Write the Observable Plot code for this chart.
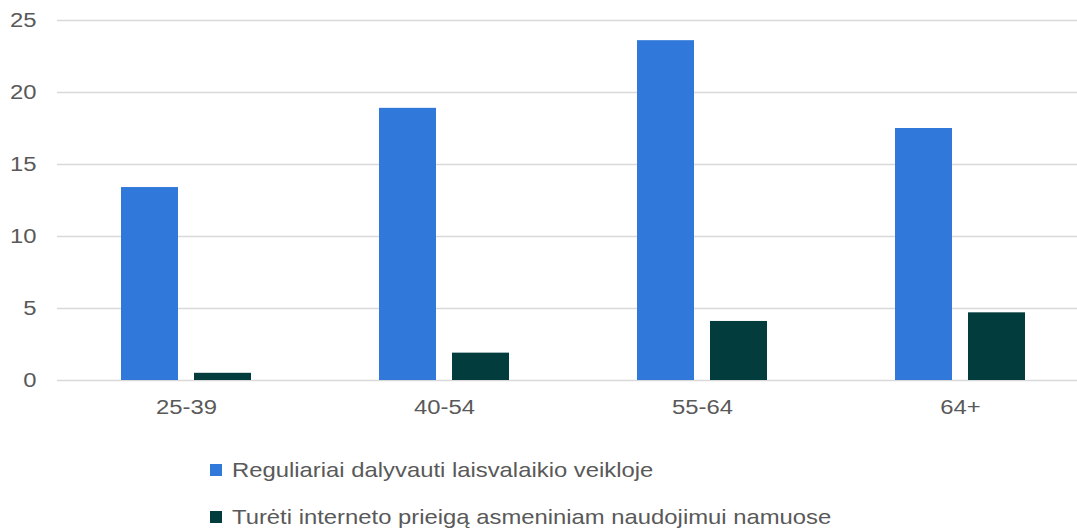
<!DOCTYPE html>
<html>
<head>
<meta charset="utf-8">
<script src="https://cdn.jsdelivr.net/npm/d3@7"></script>
<script src="https://cdn.jsdelivr.net/npm/@observablehq/plot@0.6"></script>
<style>
  html, body { margin: 0; padding: 0; background: #fff; }
  #wrap { position: relative; width: 1077px; height: 529px; overflow: hidden; font-family: "Liberation Sans", Arial, sans-serif; color: #595959; }
  #chart svg { display: block; }
  .legend-row { position: absolute; left: 210px; height: 24px; line-height: 24px; display: flex; align-items: center; font-size: 21px; white-space: nowrap; }
  .legend-row .sw { width: 12px; height: 12px; margin-right: 10px; flex: none; }
  .legend-row .txt { display: inline-block; transform: scaleX(1.135); transform-origin: left center; }
</style>
</head>
<body>
<div id="wrap">
  <div id="chart"></div>
  <div id="legend"></div>
</div>
<script>
// Age groups along the bottom
const categories = ["25-39", "40-54", "55-64", "64+"];
// Series names (legend)
const seriesNames = [
  "Reguliariai dalyvauti laisvalaikio veikloje",
  "Turėti interneto prieigą asmeniniam naudojimui namuose"
];
// Values per age group
const leisure = [13.4, 18.9, 23.6, 17.5];
const internet = [0.5, 1.9, 4.1, 4.7];
// Y axis ticks
const yTicks = [0, 5, 10, 15, 20, 25];
const colors = ["#3079db", "#023c3c"];

// The lettering is slightly wide; stretch text horizontally by this factor
const textStretch = 1.135;

const data = categories.flatMap((g, i) => [
  {group: g, series: seriesNames[0], value: leisure[i]},
  {group: g, series: seriesNames[1], value: internet[i]}
]);

const chart = Plot.plot({
  width: 1077,
  height: 430,
  marginLeft: 57,
  marginRight: 0,
  marginTop: 20,
  marginBottom: 50,
  style: {fontSize: "21px", fontFamily: "'Liberation Sans', Arial, sans-serif", color: "#595959", background: "white"},
  facet: {data, x: "group"},
  fx: {domain: categories, range: [57, 1089], padding: 0, label: null, axis: "bottom", tickSize: 0, tickPadding: 19},
  x: {domain: seriesNames, paddingInner: 0.214, paddingOuter: 0.865, axis: null},
  y: {domain: [0, 25], ticks: yTicks, tickSize: 0, tickPadding: 21, label: null},
  color: {domain: seriesNames, range: colors},
  marks: [
    Plot.ruleY(yTicks, {stroke: "#d9d9d9", strokeWidth: 1.3}),
    Plot.barY(data, {x: "series", y: "value", fill: "series"})
  ]
});
document.getElementById("chart").appendChild(chart);

// Widen the axis labels around their anchor point
chart.querySelectorAll("text").forEach((t) => {
  const bb = t.getBBox();
  const anchor = getComputedStyle(t).textAnchor;
  const ox = anchor === "end" ? bb.x + bb.width : anchor === "middle" ? bb.x + bb.width / 2 : bb.x;
  const prev = t.getAttribute("transform") || "";
  t.setAttribute("transform", `${prev} translate(${ox} 0) scale(${textStretch} 1) translate(${-ox} 0)`.trim());
});

// Legend below the chart
const legend = document.getElementById("legend");
const rowTops = [458, 505];
seriesNames.forEach((name, i) => {
  const row = document.createElement("div");
  row.className = "legend-row";
  row.style.top = rowTops[i] + "px";
  const sw = document.createElement("span");
  sw.className = "sw";
  sw.style.background = colors[i];
  const label = document.createElement("span");
  label.className = "txt";
  label.textContent = name;
  row.appendChild(sw);
  row.appendChild(label);
  legend.appendChild(row);
});
</script>
</body>
</html>
